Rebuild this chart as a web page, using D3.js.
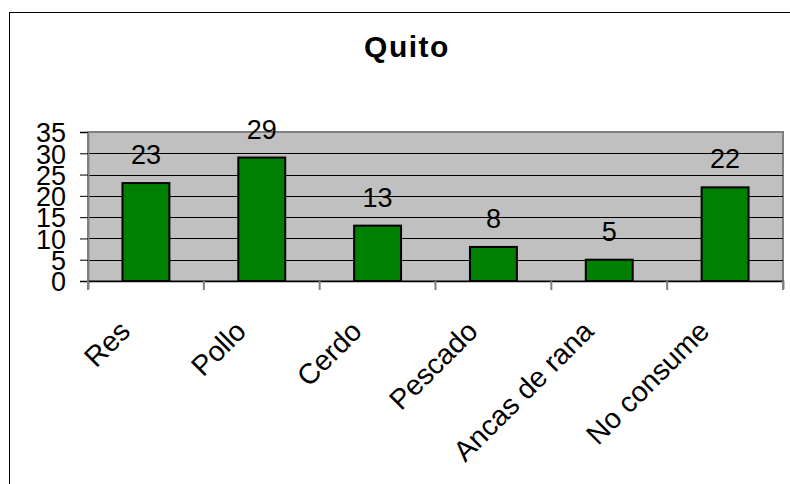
<!DOCTYPE html>
<html><head><meta charset="utf-8">
<script src="https://cdn.jsdelivr.net/npm/d3@7"></script>
<style>html,body{margin:0;padding:0;background:#fff;}svg{display:block;}</style>
</head><body>
<svg id="c" width="790" height="484"></svg>
<script>
const categories = ["Res","Pollo","Cerdo","Pescado","Ancas de rana","No consume"];
const values = [23,29,13,8,5,22];
const yTicks = [0,5,10,15,20,25,30,35];
const title = "Quito";

const svg = d3.select("#c");
const W = 790, H = 484;
const font = "Arial, 'Liberation Sans', sans-serif";

// outer frame
svg.append("rect").attr("x",9.5).attr("y",12.5).attr("width",W).attr("height",H)
  .attr("fill","#fff").attr("stroke","#000").attr("stroke-width",1);

const m = {l:88, r:783, t:132, b:281};
const x = d3.scaleBand().domain(categories).range([m.l,m.r]).paddingInner(0.595).paddingOuter(0.2975);
const xb = d3.scaleBand().domain(categories).range([m.l,m.r]);
const y = d3.scaleLinear().domain([0,35]).range([m.b,m.t]);

// plot area
svg.append("rect").attr("x",m.l).attr("y",m.t).attr("width",m.r-m.l).attr("height",m.b-m.t)
  .attr("fill","#c0c0c0").attr("stroke","#808080").attr("stroke-width",2);

// gridlines
svg.append("g").selectAll("line").data(yTicks.filter(d=>d>0 && d<35)).join("line")
  .attr("x1",m.l).attr("x2",m.r).attr("y1",d=>Math.round(y(d))+0.5).attr("y2",d=>Math.round(y(d))+0.5)
  .attr("stroke","#000").attr("stroke-width",1);

// bars
svg.append("g").selectAll("rect").data(values).join("rect")
  .attr("x",(d,i)=>x(categories[i])).attr("width",x.bandwidth())
  .attr("y",d=>y(d)).attr("height",d=>y(0)-y(d))
  .attr("fill","#008000").attr("stroke","#000").attr("stroke-width",2);

// y axis
const yAxis = d3.axisLeft(y).tickValues(yTicks).tickSize(8).tickPadding(14).tickFormat(d3.format("d"));
const gy = svg.append("g").attr("transform",`translate(${m.l},0)`).call(yAxis);
gy.select(".domain").attr("stroke","#808080").attr("stroke-width",2);
gy.selectAll(".tick line").attr("stroke","#000");
gy.selectAll(".tick text").attr("font-family",font).attr("font-size",27).attr("fill","#000").attr("dy","0.36em");

// x axis
const xAxis = d3.axisBottom(xb).tickSize(8).tickFormat("");
const gx = svg.append("g").attr("transform",`translate(0,${m.b})`).call(xAxis);
gx.select(".domain").attr("stroke","#000").attr("stroke-width",1.5);
gx.selectAll(".tick").remove();
gx.selectAll(".bt").data(d3.range(categories.length+1)).join("line")
  .attr("x1",i=>m.l + i*xb.step()).attr("x2",i=>m.l + i*xb.step())
  .attr("y1",0).attr("y2",9).attr("stroke","#808080").attr("stroke-width",2);

// x labels
svg.append("g").selectAll("text").data(categories).join("text")
  .attr("transform",d=>`translate(${xb(d)+xb.bandwidth()/2-14},${333}) rotate(-45)`)
  .attr("text-anchor","end").attr("font-family",font).attr("font-size",28.5).attr("fill","#000")
  .text(d=>d);

// value labels
svg.append("g").selectAll("text").data(values).join("text")
  .attr("x",(d,i)=>xb(categories[i])+xb.bandwidth()/2).attr("y",d=>y(d)-19)
  .attr("text-anchor","middle").attr("font-family",font).attr("font-size",27).attr("fill","#000")
  .text(d=>d);

// title
svg.append("text").attr("x",407).attr("y",57).attr("text-anchor","middle")
  .attr("font-family",font).attr("font-weight","bold").attr("font-size",30).attr("letter-spacing",1.5)
  .attr("fill","#000").text(title);
</script>
</body></html>
